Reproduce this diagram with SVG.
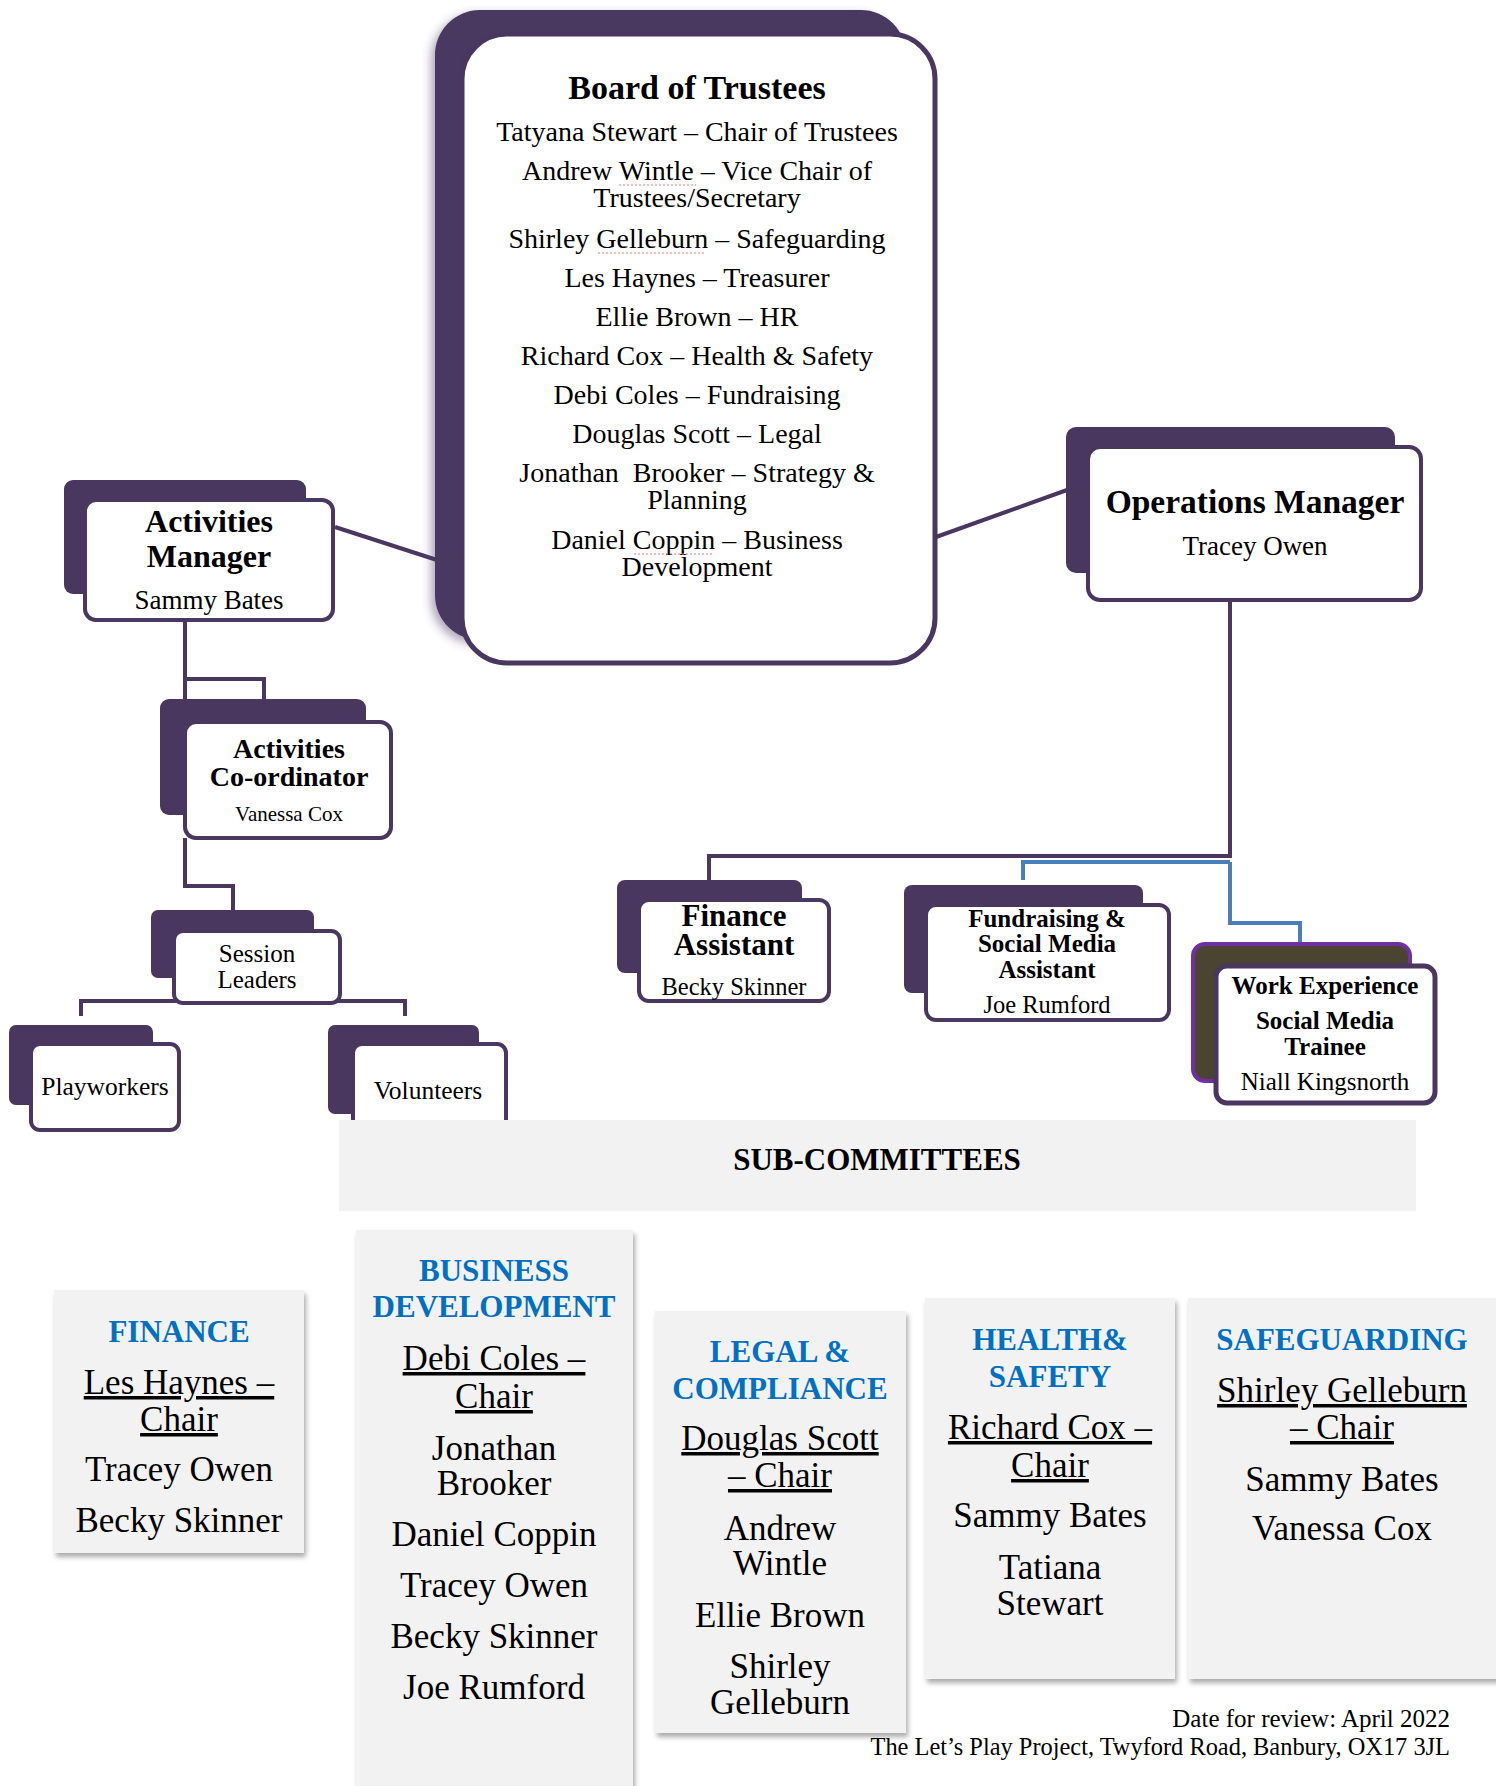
<svg xmlns="http://www.w3.org/2000/svg" width="1496" height="1786" viewBox="0 0 1496 1786">
<defs>
<style>
.back{fill:#4a3760}
.front{fill:#fff;stroke:#4a3760;stroke-width:4}
.t{font-family:"Liberation Serif","Times New Roman",serif;text-anchor:middle;fill:#000}
.b{font-weight:bold}
.conn{stroke:#4a3760;stroke-width:4;fill:none}
.blue{stroke:#4a7ebb}
.cbox{fill:#f2f2f2}
.hd{fill:#0070c0;font-weight:bold;font-size:31px}
.m{font-size:35px}
.u{text-decoration:underline}
.sq{stroke:#e08080;stroke-width:1.2;stroke-dasharray:2 2;fill:none}
</style>
<filter id="sh" x="-10%" y="-10%" width="130%" height="130%">
<feDropShadow dx="2" dy="4" stdDeviation="2.5" flood-color="#888" flood-opacity="0.7"/>
</filter>
<filter id="bsh" x="-20%" y="-20%" width="140%" height="140%">
<feDropShadow dx="-4" dy="4" stdDeviation="5" flood-color="#4a3760" flood-opacity="0.45"/>
</filter>
</defs>
<rect width="1496" height="1786" fill="#fff"/>

<g id="connectors">
<line class="conn" x1="335" y1="527" x2="437" y2="560"/>
<line class="conn" x1="936" y1="537" x2="1067" y2="490"/>
<path class="conn" d="M185,620 V700 M185,679 H264 V700"/>
<path class="conn" d="M185,838 V886 H233 V911"/>
<path class="conn" d="M81,1016 V1001 H405 V1016"/>
<path class="conn" d="M1230,600 V856 H709 V881"/>
<path class="conn blue" d="M1230,862 H1023 V880 M1230,862 V923 H1300 V943"/>
</g>

<g id="board">
<rect class="back" x="435" y="10" width="471" height="630" rx="45" filter="url(#bsh)"/>
<rect class="front" x="462" y="34" width="473" height="629" rx="45" style="stroke-width:5"/>
<text class="t b" x="697" y="99" font-size="34">Board of Trustees</text>
<text class="t" x="697" y="141" font-size="28">Tatyana Stewart – Chair of Trustees</text>
<text class="t" font-size="28"><tspan x="697" y="180">Andrew Wintle – Vice Chair of</tspan><tspan x="697" y="207">Trustees/Secretary</tspan></text>
<text class="t" x="697" y="248" font-size="28">Shirley Gelleburn – Safeguarding</text>
<text class="t" x="697" y="287" font-size="28">Les Haynes – Treasurer</text>
<text class="t" x="697" y="326" font-size="28">Ellie Brown – HR</text>
<text class="t" x="697" y="365" font-size="28">Richard Cox – Health &amp; Safety</text>
<text class="t" x="697" y="404" font-size="28">Debi Coles – Fundraising</text>
<text class="t" x="697" y="443" font-size="28">Douglas Scott – Legal</text>
<text class="t" font-size="28"><tspan x="697" y="482">Jonathan&#160; Brooker – Strategy &amp;</tspan><tspan x="697" y="509">Planning</tspan></text>
<text class="t" font-size="28"><tspan x="697" y="549">Daniel Coppin – Business</tspan><tspan x="697" y="576">Development</tspan></text>
<path class="sq" d="M619,185 H696 M598,253 H706 M634,554 H713"/>
</g>

<g id="activities-manager">
<rect class="back" x="64" y="480" width="242" height="114" rx="9"/>
<rect class="front" x="85" y="500" width="248" height="120" rx="11"/>
<text class="t b" font-size="32"><tspan x="209" y="532">Activities</tspan><tspan x="209" y="567">Manager</tspan></text>
<text class="t" x="209" y="609" font-size="27">Sammy Bates</text>
</g>

<g id="activities-coordinator">
<rect class="back" x="160" y="699" width="206" height="116" rx="9"/>
<rect class="front" x="185" y="722" width="206" height="116" rx="11"/>
<text class="t b" font-size="28"><tspan x="289" y="758">Activities</tspan><tspan x="289" y="786">Co-ordinator</tspan></text>
<text class="t" x="289" y="821" font-size="21">Vanessa Cox</text>
</g>

<g id="session-leaders">
<rect class="back" x="151" y="910" width="163" height="68" rx="7"/>
<rect class="front" x="174" y="931" width="166" height="72" rx="9"/>
<text class="t" font-size="25"><tspan x="257" y="962">Session</tspan><tspan x="257" y="988">Leaders</tspan></text>
</g>

<g id="playworkers">
<rect class="back" x="9" y="1025" width="144" height="80" rx="7"/>
<rect class="front" x="31" y="1044" width="148" height="86" rx="9"/>
<text class="t" x="105" y="1095" font-size="25.5">Playworkers</text>
</g>

<g id="volunteers">
<rect class="back" x="328" y="1025" width="151" height="89" rx="7"/>
<rect class="front" x="353" y="1044" width="153" height="100" rx="9"/>
<text class="t" x="428" y="1099" font-size="25.5">Volunteers</text>
</g>

<g id="operations-manager">
<rect class="back" x="1066" y="427" width="329" height="146" rx="10"/>
<rect class="front" x="1088" y="447" width="333" height="153" rx="12"/>
<text class="t b" x="1255" y="513" font-size="33.5">Operations Manager</text>
<text class="t" x="1255" y="555" font-size="27">Tracey Owen</text>
</g>

<g id="finance-assistant">
<rect class="back" x="617" y="880" width="185" height="93" rx="8"/>
<rect class="front" x="639" y="900" width="190" height="101" rx="10"/>
<text class="t b" font-size="31"><tspan x="734" y="926">Finance</tspan><tspan x="734" y="955">Assistant</tspan></text>
<text class="t" x="734" y="995" font-size="24.5">Becky Skinner</text>
</g>

<g id="fundraising-assistant">
<rect class="back" x="904" y="885" width="239" height="108" rx="8"/>
<rect class="front" x="926" y="905" width="243" height="115" rx="10"/>
<text class="t b" font-size="25"><tspan x="1047" y="927">Fundraising &amp;</tspan><tspan x="1047" y="952">Social Media</tspan><tspan x="1047" y="978">Assistant</tspan></text>
<text class="t" x="1047" y="1013" font-size="24.5">Joe Rumford</text>
</g>

<g id="work-experience">
<rect x="1193" y="944" width="217" height="137" rx="12" fill="#4a4430" stroke="#7030a0" stroke-width="4"/>
<rect class="front" x="1216" y="966" width="219" height="137" rx="11" style="stroke-width:5"/>
<text class="t b" x="1325" y="994" font-size="25">Work Experience</text>
<text class="t b" font-size="25"><tspan x="1325" y="1029">Social Media</tspan><tspan x="1325" y="1055">Trainee</tspan></text>
<text class="t" x="1325" y="1090" font-size="25">Niall Kingsnorth</text>
</g>

<g id="sub-committees">
<rect class="cbox" x="339" y="1120" width="1077" height="91"/>
<text class="t b" x="877" y="1170" font-size="31">SUB-COMMITTEES</text>
</g>

<g id="finance-committee">
<rect class="cbox" x="54" y="1290" width="250" height="263" filter="url(#sh)"/>
<text class="t hd" x="179" y="1342">FINANCE</text>
<text class="t m u"><tspan x="179" y="1394">Les Haynes –</tspan><tspan x="179" y="1431">Chair</tspan></text>
<text class="t m" x="179" y="1481">Tracey Owen</text>
<text class="t m" x="179" y="1532">Becky Skinner</text>
</g>

<g id="business-development-committee">
<rect class="cbox" x="356" y="1230" width="277" height="570" filter="url(#sh)"/>
<text class="t hd"><tspan x="494" y="1281">BUSINESS</tspan><tspan x="494" y="1317">DEVELOPMENT</tspan></text>
<text class="t m u"><tspan x="494" y="1370">Debi Coles –</tspan><tspan x="494" y="1408">Chair</tspan></text>
<text class="t m"><tspan x="494" y="1460">Jonathan</tspan><tspan x="494" y="1495">Brooker</tspan></text>
<text class="t m" x="494" y="1546">Daniel Coppin</text>
<text class="t m" x="494" y="1597">Tracey Owen</text>
<text class="t m" x="494" y="1648">Becky Skinner</text>
<text class="t m" x="494" y="1699">Joe Rumford</text>
</g>

<g id="legal-committee">
<rect class="cbox" x="655" y="1311" width="251" height="422" filter="url(#sh)"/>
<text class="t hd"><tspan x="780" y="1362">LEGAL &amp;</tspan><tspan x="780" y="1399">COMPLIANCE</tspan></text>
<text class="t m u"><tspan x="780" y="1450">Douglas Scott</tspan><tspan x="780" y="1487">– Chair</tspan></text>
<text class="t m"><tspan x="780" y="1540">Andrew</tspan><tspan x="780" y="1575">Wintle</tspan></text>
<text class="t m" x="780" y="1627">Ellie Brown</text>
<text class="t m"><tspan x="780" y="1678">Shirley</tspan><tspan x="780" y="1714">Gelleburn</tspan></text>
</g>

<g id="health-safety-committee">
<rect class="cbox" x="925" y="1298" width="250" height="381" filter="url(#sh)"/>
<text class="t hd"><tspan x="1050" y="1350">HEALTH&amp;</tspan><tspan x="1050" y="1387">SAFETY</tspan></text>
<text class="t m u"><tspan x="1050" y="1439">Richard Cox –</tspan><tspan x="1050" y="1477">Chair</tspan></text>
<text class="t m" x="1050" y="1527">Sammy Bates</text>
<text class="t m"><tspan x="1050" y="1579">Tatiana</tspan><tspan x="1050" y="1615">Stewart</tspan></text>
</g>

<g id="safeguarding-committee">
<rect class="cbox" x="1188" y="1298" width="320" height="381" filter="url(#sh)"/>
<text class="t hd" x="1342" y="1350">SAFEGUARDING</text>
<text class="t m u"><tspan x="1342" y="1402">Shirley Gelleburn</tspan><tspan x="1342" y="1439">– Chair</tspan></text>
<text class="t m" x="1342" y="1491">Sammy Bates</text>
<text class="t m" x="1342" y="1540">Vanessa Cox</text>
</g>

<g id="footer">
<text class="t" x="1450" y="1727" font-size="25" style="text-anchor:end">Date for review: April 2022</text>
<text class="t" x="1450" y="1755" font-size="24.4" style="text-anchor:end">The Let’s Play Project, Twyford Road, Banbury, OX17 3JL</text>
</g>
</svg>
